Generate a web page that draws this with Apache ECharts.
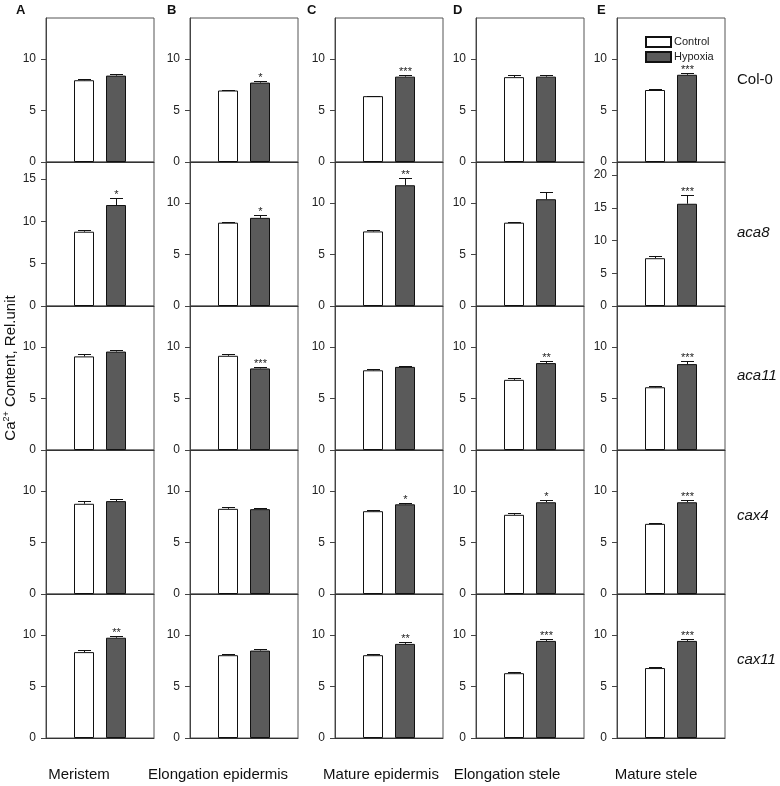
<!DOCTYPE html>
<html>
<head>
<meta charset="utf-8">
<script src="https://cdn.jsdelivr.net/npm/echarts@6/dist/echarts.min.js"></script>
<style>
html,body{margin:0;padding:0;background:#fff;}
#chart{width:780px;height:786px;}
</style>
</head>
<body>
<div id="chart"></div>
<script>
// ---- data ----
const tissues = ['Meristem', 'Elongation epidermis', 'Mature epidermis', 'Elongation stele', 'Mature stele'];
const genotypes = ['Col-0', 'aca8', 'aca11', 'cax4', 'cax11'];
const panelLetters = ['A', 'B', 'C', 'D', 'E'];
const seriesNames = ['Control', 'Hypoxia'];

// rows = genotypes, columns = tissues
const controlMean = [
  [7.95, 6.95, 6.4, 8.25, 7.0],
  [8.77, 8.1, 7.25, 8.1, 7.3],
  [9.1, 9.16, 7.75, 6.82, 6.1],
  [8.77, 8.28, 8.05, 7.7, 6.82],
  [8.35, 8.05, 8.05, 6.3, 6.8]
];
const controlErr = [
  [0.15, 0.08, 0.06, 0.25, 0.13],
  [0.15, 0.1, 0.16, 0.1, 0.3],
  [0.26, 0.13, 0.12, 0.19, 0.1],
  [0.26, 0.16, 0.13, 0.19, 0.06],
  [0.16, 0.1, 0.13, 0.1, 0.1]
];
const hypoxiaMean = [
  [8.4, 7.72, 8.3, 8.3, 8.48],
  [11.92, 8.57, 11.74, 10.38, 15.62],
  [9.57, 7.93, 8.08, 8.45, 8.35],
  [9.03, 8.25, 8.72, 8.92, 8.92],
  [9.75, 8.5, 9.15, 9.44, 9.44]
];
const hypoxiaErr = [
  [0.15, 0.18, 0.13, 0.13, 0.13],
  [0.83, 0.32, 0.68, 0.75, 1.27],
  [0.16, 0.16, 0.12, 0.22, 0.32],
  [0.16, 0.1, 0.13, 0.23, 0.23],
  [0.19, 0.19, 0.16, 0.19, 0.19]
];
// number of significance asterisks above the hypoxia bar
const hypoxiaStars = [
  [0, 1, 3, 0, 3],
  [1, 1, 2, 0, 3],
  [0, 3, 0, 2, 3],
  [0, 0, 1, 1, 3],
  [2, 0, 2, 3, 3]
];
const axisMax = [
  [14, 14, 14, 14, 14],
  [17, 14, 14, 14, 22],
  [14, 14, 14, 14, 14],
  [14, 14, 14, 14, 14],
  [14, 14, 14, 14, 14]
];
const tickLabels = [
  [[0,5,10],[0,5,10],[0,5,10],[0,5,10],[0,5,10]],
  [[0,5,10,15],[0,5,10],[0,5,10],[0,5,10],[0,5,10,15,20]],
  [[0,5,10],[0,5,10],[0,5,10],[0,5,10],[0,5,10]],
  [[0,5,10],[0,5,10],[0,5,10],[0,5,10],[0,5,10]],
  [[0,5,10],[0,5,10],[0,5,10],[0,5,10],[0,5,10]]
];

// ---- layout ----
const FONT = "'Liberation Sans', Arial, sans-serif";
const colLeft = [46, 190, 335, 476, 617];
const panelW = 108;
const rowTop = [18, 162, 306, 450, 594];
const panelH = 144;
const BAR_W = 20, GAP_PX = 12;
const HALF = (BAR_W + GAP_PX) / 2;

const grids = [], xAxes = [], yAxes = [], series = [];
for (let r = 0; r < 5; r++) {
  for (let c = 0; c < 5; c++) {
    const gi = r * 5 + c;
    grids.push({
      left: colLeft[c], top: rowTop[r], width: panelW, height: panelH,
      show: true, borderColor: '#555', borderWidth: 1, backgroundColor: 'transparent'
    });
    xAxes.push({
      type: 'category', gridIndex: gi, data: [tissues[c]],
      axisLine: { show: true, lineStyle: { color: '#333', width: 1 } },
      axisTick: { show: false }, axisLabel: { show: false }, splitLine: { show: false }
    });
    yAxes.push({
      type: 'value', gridIndex: gi, min: 0, max: axisMax[r][c], interval: 5,
      axisLine: { show: true, lineStyle: { color: '#444', width: 1 } },
      axisTick: { show: true, length: 5, inside: false, customValues: tickLabels[r][c], lineStyle: { color: '#444' } },
      axisLabel: { show: true, customValues: tickLabels[r][c], fontSize: 12, fontFamily: FONT, color: '#222', margin: 10 },
      splitLine: { show: false }
    });
    series.push({
      name: 'Control', type: 'bar', xAxisIndex: gi, yAxisIndex: gi,
      barWidth: BAR_W, barGap: (GAP_PX / BAR_W * 100) + '%',
      itemStyle: { color: '#ffffff', borderColor: '#111', borderWidth: 1 },
      data: [controlMean[r][c]], silent: true, animation: false
    });
    series.push({
      name: 'Hypoxia', type: 'bar', xAxisIndex: gi, yAxisIndex: gi,
      barWidth: BAR_W, barGap: (GAP_PX / BAR_W * 100) + '%',
      itemStyle: { color: '#5a5a5a', borderColor: '#111', borderWidth: 1 },
      data: [hypoxiaMean[r][c]], silent: true, animation: false
    });
    series.push({
      name: 'err', type: 'custom', xAxisIndex: gi, yAxisIndex: gi,
      silent: true, animation: false, z: 5,
      data: [
        [0, controlMean[r][c], controlErr[r][c], -1, 0],
        [0, hypoxiaMean[r][c], hypoxiaErr[r][c], 1, hypoxiaStars[r][c]]
      ],
      renderItem: function (params, api) {
        const v = api.value(1), e = api.value(2), side = api.value(3), ns = api.value(4);
        const base = api.coord([0, v]);
        const topPt = api.coord([0, v + e]);
        const x = Math.round(base[0] + side * HALF) + 0.5;
        const yb = base[1], yt = Math.round(topPt[1]) + 0.5;
        const children = [
          { type: 'line', shape: { x1: x, y1: yb, x2: x, y2: yt }, style: { stroke: '#111', lineWidth: 1 } },
          { type: 'line', shape: { x1: x - 6.5, y1: yt, x2: x + 6.5, y2: yt }, style: { stroke: '#111', lineWidth: 1 } }
        ];
        if (ns > 0) {
          children.push({
            type: 'text', x: x, y: yt + 2,
            style: { text: '*'.repeat(ns), fontSize: 11, fontFamily: FONT, fill: '#222', align: 'center', verticalAlign: 'bottom' }
          });
        }
        return { type: 'group', children: children };
      }
    });
  }
}

// ---- text graphics ----
const colLabelX = [79, 218, 381, 507, 656];
const letterX = [16, 167, 307, 453, 597];
const rowLabelY = [80, 233, 376, 516, 660];
const graphics = [];
tissues.forEach((t, i) => graphics.push({
  type: 'text', x: colLabelX[i], y: 775,
  style: { text: t, fontSize: 15, fontFamily: FONT, fill: '#111', align: 'center', verticalAlign: 'middle' }
}));
panelLetters.forEach((t, i) => graphics.push({
  type: 'text', x: letterX[i], y: 10,
  style: { text: t, fontSize: 13, fontWeight: 'bold', fontFamily: FONT, fill: '#111', align: 'left', verticalAlign: 'middle' }
}));
genotypes.forEach((g, i) => graphics.push({
  type: 'text', x: 737, y: rowLabelY[i],
  style: { text: g, fontSize: 15, fontStyle: i === 0 ? 'normal' : 'italic', fontFamily: FONT, fill: '#111', align: 'left', verticalAlign: 'middle' }
}));
graphics.push({
  type: 'text', x: 11, y: 368, rotation: Math.PI / 2,
  style: {
    text: 'Ca{sup|2+} Content, Rel.unit', fontSize: 15, fontFamily: FONT, fill: '#111',
    align: 'center', verticalAlign: 'middle',
    rich: { sup: { fontSize: 9, fontFamily: FONT, fill: '#111', verticalAlign: 'top', padding: [0, 0, 8, 0] } }
  }
});

const chart = echarts.init(document.getElementById('chart'), null, { renderer: 'canvas' });
chart.setOption({
  animation: false,
  backgroundColor: '#fff',
  grid: grids, xAxis: xAxes, yAxis: yAxes, series: series,
  legend: {
    data: seriesNames, orient: 'vertical', left: 640, top: 31,
    itemWidth: 25, itemHeight: 10, itemGap: 3, icon: 'rect',
    textStyle: { fontSize: 11, fontFamily: FONT, color: '#222', padding: [0, 0, 0, -2] },
    selectedMode: false
  },
  graphic: graphics
});
</script>
</body>
</html>
